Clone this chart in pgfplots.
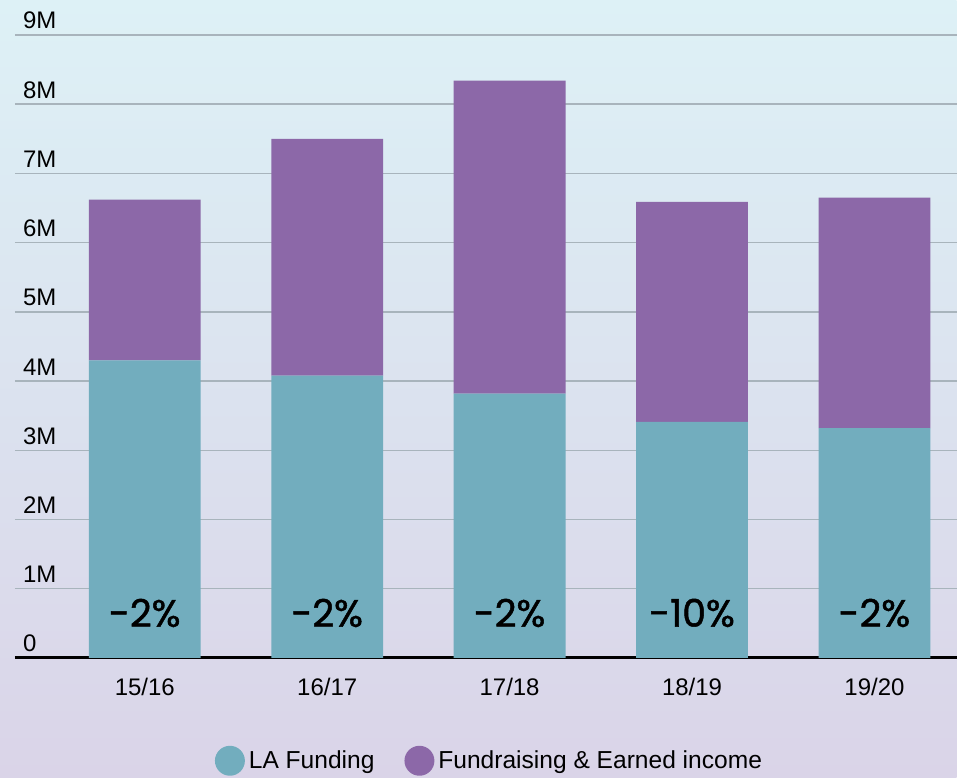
\documentclass[border=0pt]{standalone}
\usepackage{fontspec}
\setmainfont{Liberation Sans}
\newfontfamily\pfont[FakeBold=1.3]{Poppins}
\usepackage{pgfplots}
\pgfplotsset{compat=1.18}
\definecolor{teal1}{RGB}{114,173,190}
\definecolor{purp1}{RGB}{140,104,168}
\definecolor{gridc}{RGB}{168,180,188}
\begin{document}
\begin{tikzpicture}
\shade[top color={rgb,255:red,221;green,241;blue,246}, bottom color={rgb,255:red,218;green,212;blue,232}] (0pt,0pt) rectangle (479pt,389.5pt);
\begin{axis}[
  at={(7.5pt,60pt)}, anchor=south west,
  scale only axis, width=471.5pt, height=312pt,
  xmin=-0.7115, xmax=4.45, ymin=0, ymax=9,
  ybar stacked, bar width=56pt,
  axis x line*=bottom, axis y line*=left,
  y axis line style={draw=none},
  x axis line style={line width=1.5pt, black},
  xtick={0,1,2,3,4},
  xticklabels={15/16,16/17,17/18,18/19,19/20},
  ytick={0,1,2,3,4,5,6,7,8,9},
  yticklabels={0,1M,2M,3M,4M,5M,6M,7M,8M,9M},
  major tick length=0pt,
  ymajorgrids, grid style={gridc, line width=0.75pt},
  xticklabel style={font=\fontsize{12}{14}\selectfont, anchor=base, yshift=-19pt},
  yticklabel style={font=\fontsize{12}{14}\selectfont, anchor=base west, xshift=0.5pt, yshift=3pt},
  legend style={at={(0.505,-0.165)}, anchor=center, legend columns=2, draw=none, fill=none,
    font=\fontsize{12.3}{14}\selectfont,
    /tikz/every even column/.append style={column sep=13pt}},
]
\addplot[fill=teal1, draw=none, legend image code/.code={\fill[teal1] (0pt,0pt) circle (7.5pt);}]
  coordinates {(0,4.30) (1,4.08) (2,3.82) (3,3.41) (4,3.32)};
\addplot[fill=purp1, draw=none, legend image code/.code={\fill[purp1] (0pt,0pt) circle (7.5pt);}]
  coordinates {(0,2.32) (1,3.42) (2,4.52) (3,3.18) (4,3.33)};
\legend{LA Funding, Fundraising \& Earned income}
\coordinate (p0) at (axis cs:0,0.65);
\coordinate (p1) at (axis cs:1,0.65);
\coordinate (p2) at (axis cs:2,0.65);
\coordinate (p3) at (axis cs:3,0.65);
\coordinate (p4) at (axis cs:4,0.65);
\end{axis}
\begin{scope}[every node/.style={font=\pfont\fontsize{19}{20}\selectfont, text=black}]
\node at (p0) {-2\%};
\node at (p1) {-2\%};
\node at (p2) {-2\%};
\node at (p3) {-10\%};
\node at (p4) {-2\%};
\end{scope}
\end{tikzpicture}
\end{document}
